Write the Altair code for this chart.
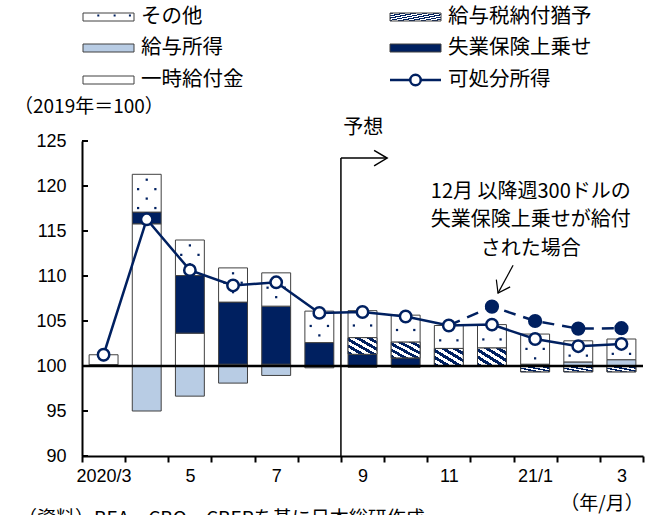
import altair as alt
import pandas as pd

# ---- palette / fonts ----
NAVY = "#002060"
LIGHT = "#b8cce4"
EDGE = "#404040"
JP = "Noto Sans CJK JP"
NUM = "Liberation Sans"

# ---- data: contributions to real disposable income (2019 = 100), pts ----
months = ["2020/3", "4", "5", "6", "7", "8", "9", "10", "11", "12", "21/1", "2", "3"]
axis_months = ["2020/3", "", "5", "", "7", "", "9", "", "11", "", "21/1", "", "3"]
wages = [0.15, -5.0, -3.35, -1.9, -1.05, -0.2, -0.15, -0.15, 0.0, 0.0, 0.2, 0.45, 0.7]
stimulus = [0.0, 15.8, 3.65, 0.2, 0.2, 0.0, 0.0, 0.0, 0.0, 0.0, 0.0, 0.0, 0.0]
ui_topup = [0.0, 1.3, 6.4, 6.9, 6.45, 2.6, 1.3, 0.9, 0.0, 0.0, 0.0, 0.0, 0.0]
tax_deferral = [0.0, 0.0, 0.0, 0.0, 0.0, 0.0, 1.85, 1.75, 1.95, 2.0, -0.65, -0.65, -0.65]
other = [1.1, 4.2, 3.95, 3.8, 3.7, 3.5, 3.0, 3.0, 2.55, 2.6, 3.35, 2.35, 2.3]
disposable = [101.25, 116.3, 110.65, 108.95, 109.3, 105.9, 106.0, 105.5, 104.5, 104.6, 103.0, 102.2, 102.45]
# scenario: extra $300/week UI top-up paid from December
scenario = [None] * 8 + [104.5, 106.6, 105.0, 104.15, 104.2]

yticks = [90, 95, 100, 105, 110, 115, 120, 125]

N = len(months)
BAR = 0.67  # bar width as a share of one month
W, H = 561, 315
PX_X = W / N          # pixels per month

X_SCALE = alt.Scale(domain=[0, N], nice=False, zero=False)
Y_SCALE = alt.Scale(domain=[90, 125], nice=False, zero=False)

components = [
    ("給与所得", wages),
    ("一時給付金", stimulus),
    ("失業保険上乗せ", ui_topup),
    ("給与税納付猶予", tax_deferral),
    ("その他", other),
]

# stacked segments, positives upward from 100, negatives downward
rows = []
for i in range(N):
    pos, neg = 0.0, 0.0
    for name, vals in components:
        v = vals[i]
        if v > 0:
            rows.append(dict(idx=i, comp=name, lo=100 + pos, hi=100 + pos + v))
            pos += v
        elif v < 0:
            rows.append(dict(idx=i, comp=name, lo=100 + neg + v, hi=100 + neg))
            neg += v
seg = pd.DataFrame(rows)
seg["x0"] = seg["idx"] + 0.5 - BAR / 2
seg["x1"] = seg["idx"] + 0.5 + BAR / 2

# sparse dot texture for the "other" segments
dots = []
for r in seg[seg["comp"] == "その他"].itertuples():
    y = r.hi - 0.6
    k = 0
    while y > r.lo + 0.35:
        offs = [0.5] if k % 2 == 0 else [0.3, 0.7]
        for o in offs:
            dots.append(dict(x=r.idx + o, y=y))
        y -= 1.05
        k += 1
dots = pd.DataFrame(dots)

disp_df = pd.DataFrame({"x": [i + 0.5 for i in range(N)], "y": disposable})
scen_df = pd.DataFrame(
    {"x": [i + 0.5 for i in range(N) if scenario[i] is not None],
     "y": [v for v in scenario if v is not None]}
)


def hatch(periods):
    stops = []
    for k in range(periods):
        a, b, c = k / periods, (k + 0.5) / periods, (k + 1) / periods
        stops += [
            {"offset": a, "color": NAVY},
            {"offset": b, "color": NAVY},
            {"offset": b, "color": "white"},
            {"offset": c, "color": "white"},
        ]
    return {"gradient": "linear", "x1": 0, "y1": 1, "x2": 1, "y2": 0, "stops": stops}


x_axis = alt.Axis(
    values=list(range(N + 1)),
    labelExpr="[" + ",".join(f"'{m}'" for m in axis_months) + "][datum.value] || ''",
    labelOffset=PX_X / 2,
    tickSize=6, tickWidth=2, tickColor="black",
    domainWidth=2, domainColor="black",
    labelFont=NUM, labelFontSize=18, labelColor="black", labelPadding=5,
    labelOverlap=False, labelBound=False, labelFlush=False,
    grid=False, title=None,
)
y_axis = alt.Axis(
    values=yticks, ticks=False,
    domainWidth=2, domainColor="black",
    labelFont=NUM, labelFontSize=18, labelColor="black", labelPadding=16,
    grid=False, title=None,
)

fill_scale = alt.Scale(
    domain=[c[0] for c in components],
    range=[LIGHT, "white", NAVY, "white", "white"],
)

bars = alt.Chart(seg).mark_rect(stroke=EDGE, strokeWidth=1).encode(
    x=alt.X("x0:Q", scale=X_SCALE, axis=x_axis),
    x2="x1:Q",
    y=alt.Y("lo:Q", scale=Y_SCALE, axis=y_axis),
    y2="hi:Q",
    fill=alt.Fill("comp:N", scale=fill_scale, legend=None),
)

tax_seg = seg[seg["comp"] == "給与税納付猶予"]


def hatched(df, periods):
    return alt.Chart(df).mark_rect(fill=hatch(periods), stroke=EDGE, strokeWidth=1).encode(
        x=alt.X("x0:Q", scale=X_SCALE), x2="x1:Q",
        y=alt.Y("lo:Q", scale=Y_SCALE), y2="hi:Q",
    )


hatch_pos = hatched(tax_seg[tax_seg["hi"] > 100.01], 5)
hatch_neg = hatched(tax_seg[tax_seg["hi"] <= 100.01], 4)

dot_layer = alt.Chart(dots).mark_square(size=5, color=NAVY, opacity=1).encode(
    x=alt.X("x:Q", scale=X_SCALE), y=alt.Y("y:Q", scale=Y_SCALE)
)

base_rule = alt.Chart(pd.DataFrame({"y": [100]})).mark_rule(color="black", strokeWidth=2.5).encode(
    y=alt.Y("y:Q", scale=Y_SCALE), x=alt.value(0), x2=alt.value(W)
)

ytick_marks = alt.Chart(pd.DataFrame({"y": yticks})).mark_rule(color="black", strokeWidth=2).encode(
    y=alt.Y("y:Q", scale=Y_SCALE), x=alt.value(0), x2=alt.value(6)
)

# forecast marker: vertical divider between Aug and Sep, arrow pointing right
FC_X, FC_TOP, FC_END = 6, 123.1, 7.07
fc_df = pd.DataFrame({"x": [FC_X], "y0": [90], "y1": [FC_TOP], "xe": [FC_END]})
fc_vert = alt.Chart(fc_df).mark_rule(color="black", strokeWidth=1.5).encode(
    x=alt.X("x:Q", scale=X_SCALE), y=alt.Y("y0:Q", scale=Y_SCALE), y2="y1:Q"
)
fc_horiz = alt.Chart(fc_df).mark_rule(color="black", strokeWidth=1.5).encode(
    x=alt.X("x:Q", scale=X_SCALE), x2="xe:Q", y=alt.Y("y1:Q", scale=Y_SCALE)
)
CHEVRON = "M-1,-0.6L0,0L-1,0.6"
fc_head = alt.Chart(fc_df).mark_point(
    shape=CHEVRON, size=676, filled=False, stroke="black", strokeWidth=1.5, opacity=1
).encode(x=alt.X("xe:Q", scale=X_SCALE), y=alt.Y("y1:Q", scale=Y_SCALE))
fc_text = alt.Chart(pd.DataFrame({"x": [6.52], "y": [126.5], "t": ["予想"]})).mark_text(
    font=JP, fontSize=20, color="black", align="center", baseline="middle"
).encode(x=alt.X("x:Q", scale=X_SCALE), y=alt.Y("y:Q", scale=Y_SCALE), text="t:N")

# scenario note and its arrow
note_lines = ["12月 以降週300ドルの", "失業保険上乗せが給付", "された場合"]
note_df = pd.DataFrame({"x": [10.4] * 3, "y": [119.35, 116.2, 113.05], "t": note_lines})
note = alt.Chart(note_df).mark_text(
    font=JP, fontSize=20, color="black", align="center", baseline="middle"
).encode(x=alt.X("x:Q", scale=X_SCALE), y=alt.Y("y:Q", scale=Y_SCALE), text="t:N")
arr_df = pd.DataFrame({"x0": [9.99], "y0": [111.2], "x1": [9.64], "y1": [108.1]})
note_line = alt.Chart(arr_df).mark_rule(color="black", strokeWidth=1.2).encode(
    x=alt.X("x0:Q", scale=X_SCALE), x2="x1:Q", y=alt.Y("y0:Q", scale=Y_SCALE), y2="y1:Q"
)
note_head = alt.Chart(arr_df).mark_point(
    shape="M-1,-0.7L0,0L-1,0.7", size=500, angle=118, filled=False,
    stroke="black", strokeWidth=1.2, opacity=1
).encode(x=alt.X("x1:Q", scale=X_SCALE), y=alt.Y("y1:Q", scale=Y_SCALE))

scen_line = alt.Chart(scen_df).mark_line(color=NAVY, strokeWidth=2.5, strokeDash=[12, 8]).encode(
    x=alt.X("x:Q", scale=X_SCALE), y=alt.Y("y:Q", scale=Y_SCALE)
)
scen_pts = alt.Chart(scen_df.iloc[1:]).mark_point(
    shape="circle", filled=True, fill=NAVY, stroke=NAVY, size=150, opacity=1
).encode(x=alt.X("x:Q", scale=X_SCALE), y=alt.Y("y:Q", scale=Y_SCALE))

disp_line = alt.Chart(disp_df).mark_line(color=NAVY, strokeWidth=2.5).encode(
    x=alt.X("x:Q", scale=X_SCALE), y=alt.Y("y:Q", scale=Y_SCALE)
)
disp_pts = alt.Chart(disp_df).mark_point(
    shape="circle", filled=True, fill="white", stroke=NAVY, strokeWidth=2.5, size=130, opacity=1
).encode(x=alt.X("x:Q", scale=X_SCALE), y=alt.Y("y:Q", scale=Y_SCALE))

# ---- hand-built legend above the plot (pixel offsets from plot origin) ----
one = pd.DataFrame({"k": [0]})
LEG_COL_X = [1, 308]
LEG_ROW_Y = [-124, -93, -61]
SYM_W, SYM_H = 51, 8
legend_items = [
    (0, 0, "その他", "dots"),
    (0, 1, "給与所得", LIGHT),
    (0, 2, "一時給付金", "white"),
    (1, 0, "給与税納付猶予", "hatch"),
    (1, 1, "失業保険上乗せ", NAVY),
    (1, 2, "可処分所得", "line"),
]
legend_layers = []
for col, row, label, kind in legend_items:
    lx, ly = LEG_COL_X[col], LEG_ROW_Y[row]
    if kind == "line":
        legend_layers.append(alt.Chart(one).mark_rule(color=NAVY, strokeWidth=2.5).encode(
            x=alt.value(lx), x2=alt.value(lx + SYM_W), y=alt.value(ly)))
        legend_layers.append(alt.Chart(one).mark_point(
            shape="circle", filled=True, fill="white", stroke=NAVY, strokeWidth=2.5, size=110, opacity=1
        ).encode(x=alt.value(lx + SYM_W / 2), y=alt.value(ly)))
    else:
        fill = {"dots": "white", "hatch": hatch(9)}.get(kind, kind)
        legend_layers.append(alt.Chart(one).mark_rect(fill=fill, stroke=EDGE, strokeWidth=1).encode(
            x=alt.value(lx), x2=alt.value(lx + SYM_W),
            y=alt.value(ly - SYM_H / 2), y2=alt.value(ly + SYM_H / 2)))
        if kind == "dots":
            for f in (0.3, 0.62, 0.92):
                legend_layers.append(alt.Chart(one).mark_square(size=4, color=NAVY, opacity=1).encode(
                    x=alt.value(lx + SYM_W * f), y=alt.value(ly - 1.5)))
    legend_layers.append(alt.Chart(one).mark_text(
        text=label, font=JP, fontSize=20.5, color="black", align="left", baseline="middle"
    ).encode(x=alt.value(lx + SYM_W + 7), y=alt.value(ly)))

unit_note = alt.Chart(one).mark_text(
    text="（2019年＝100）", font=JP, fontSize=19, color="black", align="left", baseline="middle"
).encode(x=alt.value(-68), y=alt.value(-34))
period_note = alt.Chart(one).mark_text(
    text="（年/月）", font=JP, fontSize=19, color="black", align="center", baseline="middle"
).encode(x=alt.value(520), y=alt.value(363))
source_note = alt.Chart(one).mark_text(
    text="（資料）BEA、CBO、CBERを基に日本総研作成", font=JP, fontSize=19, color="black",
    align="left", baseline="middle"
).encode(x=alt.value(-64), y=alt.value(378))

chart = alt.layer(
    bars, hatch_pos, hatch_neg, dot_layer, base_rule, ytick_marks,
    fc_vert, fc_horiz, fc_head, fc_text,
    note, note_line, note_head,
    scen_line, scen_pts, disp_line, disp_pts,
    *legend_layers, unit_note, period_note, source_note,
).properties(
    width=W, height=H,
    autosize=alt.AutoSizeParams(type="none"),
    padding={"left": 82, "top": 141, "right": 16, "bottom": 59},
    background="white",
).configure_view(stroke=None)

chart.save("out.html", embed_options={"renderer": "svg", "actions": False})
